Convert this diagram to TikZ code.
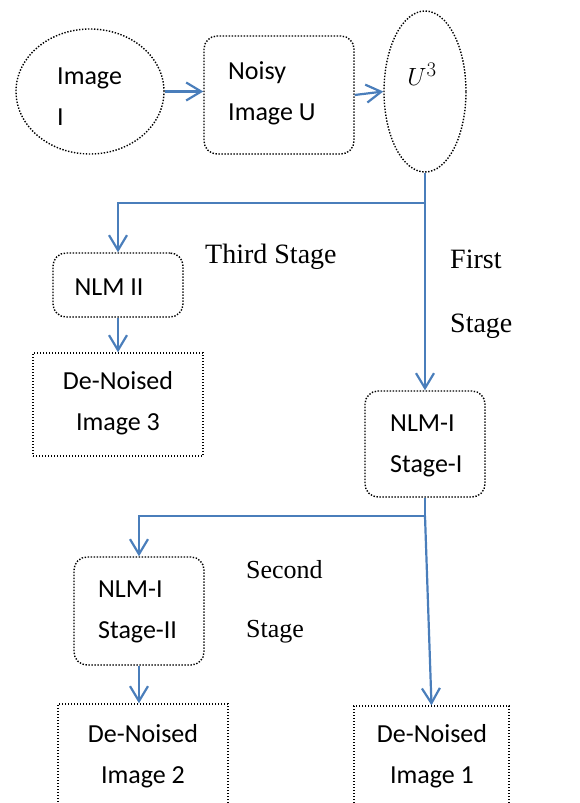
\documentclass[tikz,border=0pt]{standalone}
\usepackage{fontspec}
\setmainfont{Carlito}
\newfontfamily\tnr{Liberation Serif}
\usetikzlibrary{arrows.meta,shapes.geometric}
\definecolor{flowblue}{RGB}{74,126,187}
\begin{document}
\begin{tikzpicture}[x=1pt,y=-1pt,
  outline/.style={draw=black,line width=1.4pt,dash pattern=on 1.4pt off 1.6pt,inner sep=0pt},
  roundbox/.style={outline,rectangle,rounded corners=13pt},
  plainbox/.style={outline,rectangle},
  boxtext/.style={font=\fontsize{26}{41}\selectfont,inner sep=0pt},
  stagetext/.style={font=\tnr\fontsize{28}{34}\selectfont,inner sep=0pt,anchor=base west},
  flow/.style={draw=flowblue,line width=2.2pt},
  flowarrow/.style={flow,-{Straight Barb[length=15pt,width=18pt]}}
]
\clip (0,0) rectangle (579,803);
% shapes
\node[outline,ellipse,minimum width=148pt,minimum height=125pt] (imgI) at (90,91.5) {};
\node[roundbox,minimum width=150pt,minimum height=118pt] (noisy) at (279,95) {};
\node[outline,ellipse,minimum width=82pt,minimum height=161pt] (u3) at (425,91.5) {};
\node[roundbox,minimum width=130pt,minimum height=64pt] (nlm2) at (118,285) {};
\node[plainbox,minimum width=170pt,minimum height=103pt] (dn3) at (118,404.5) {};
\node[roundbox,minimum width=120pt,minimum height=106pt] (nlm1) at (425,444) {};
\node[roundbox,minimum width=130pt,minimum height=108pt] (nlm12) at (139,611) {};
\node[plainbox,minimum width=170pt,minimum height=112pt] (dn2) at (143,760) {};
\node[plainbox,minimum width=155pt,minimum height=110pt] (dn1) at (431.5,761) {};
% texts
\node[boxtext,anchor=west,align=left] (timgI) at (57,97) {Image\\I};
\node[boxtext,anchor=west,align=left] (tnoisy) at (228,93) {Noisy\\Image U};
\node[inner sep=0pt,font=\fontsize{32}{36}\selectfont] (tu3) at (422,74) {$U^3$};
\node[boxtext] (tnlm2) at (109,287) {NLM II};
\node[boxtext,align=center] (tdn3) at (118,403) {De-Noised\\Image 3};
\node[boxtext,anchor=west,align=left] (tnlm1) at (390,446) {NLM-I\\Stage-I};
\node[boxtext,anchor=west,align=left] (tnlm12) at (98,612) {NLM-I\\Stage-II};
\node[boxtext,align=center] (tdn2) at (143,756) {De-Noised\\Image 2};
\node[boxtext,align=center] (tdn1) at (432,756) {De-Noised\\Image 1};
\node[stagetext] (third) at (205,263) {Third Stage};
\node[stagetext] (first1) at (450,268) {First};
\node[stagetext] (first2) at (450,332) {Stage};
\node[stagetext,font=\tnr\fontsize{26}{32}\selectfont] (second1) at (246,578) {Second};
\node[stagetext,font=\tnr\fontsize{26}{32}\selectfont] (second2) at (246,637) {Stage};
% junctions
\coordinate (j1) at (425,203);
\coordinate (j2) at (425,516);
% connectors
\draw[flowarrow] (imgI.east) -- (imgI.east -| noisy.west);
\draw[flowarrow] (noisy.east) -- (u3.west);
\draw[flow] (u3.south) -- (j1);
\draw[flowarrow] (j1) -- (nlm1.north);
\draw[flowarrow] (j1) -| (nlm2.north);
\draw[flowarrow] (nlm2.south) -- (dn3.north);
\draw[flow] (nlm1.south) -- (j2);
\draw[flowarrow] (j2) -| (nlm12.north);
\draw[flowarrow] (j2) -- (dn1.north);
\draw[flowarrow] (nlm12.south) -- (nlm12.south |- dn2.north);
\end{tikzpicture}
\end{document}
